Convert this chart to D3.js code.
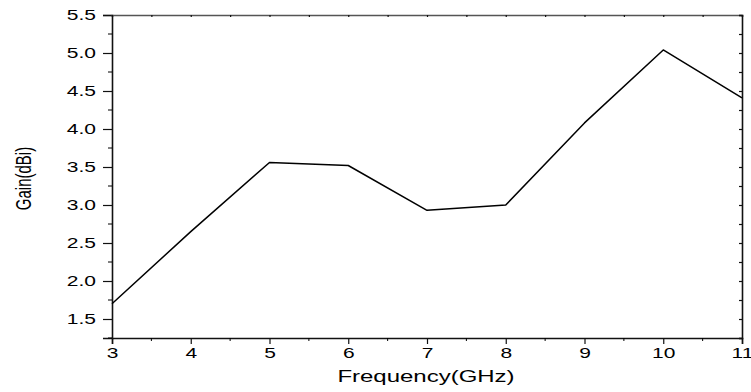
<!DOCTYPE html>
<html><head><meta charset="utf-8">
<script src="https://cdn.jsdelivr.net/npm/d3@7"></script>
<style>body{margin:0;background:#fff}svg{display:block}</style>
</head><body>
<svg id="c" width="751" height="392"></svg>
<script>
const freq = [3, 4, 5, 6, 7, 8, 9, 10, 11];
const gain = [1.70, 2.65, 3.56, 3.52, 2.93, 3.00, 4.08, 5.04, 4.41];
const xTicks = [3, 4, 5, 6, 7, 8, 9, 10, 11];
const yTicks = [1.5, 2.0, 2.5, 3.0, 3.5, 4.0, 4.5, 5.0, 5.5];

const svg = d3.select("#c");
const L = 112, R = 742, T = 15, B = 338;
const SX = 1.5;
const x = d3.scaleLinear().domain([3, 11]).range([L, R]);
const y = d3.scaleLinear().domain([1.25, 5.5]).range([B, T]);
const font = "Liberation Sans, Arial, sans-serif";

const xMinor = d3.range(3.5, 11, 1);
const yMinor = d3.range(1.25, 5.5, 0.5);

const gx = svg.append("g").attr("transform", `translate(0,${B})`)
  .call(d3.axisBottom(x).tickValues(xTicks).tickFormat(d3.format("d")).tickSizeOuter(0).tickSize(6).tickPadding(4));
gx.append("g").selectAll("line").data(xMinor).join("line")
  .attr("x1", d => x(d)).attr("x2", d => x(d)).attr("y1", 0).attr("y2", 3).attr("stroke", "#000");

const gy = svg.append("g").attr("transform", `translate(${L},0)`)
  .call(d3.axisLeft(y).tickValues(yTicks).tickFormat(d3.format(".1f")).tickSizeOuter(0).tickSize(9).tickPadding(7));
gy.append("g").selectAll("line").data(yMinor).join("line")
  .attr("y1", d => y(d)).attr("y2", d => y(d)).attr("x1", 0).attr("x2", -4).attr("stroke", "#000");

const gt = svg.append("g").attr("transform", `translate(0,${T})`)
  .call(d3.axisTop(x).tickValues(d3.range(3, 11.01, 0.5)).tickFormat("").tickSizeOuter(0).tickSize(-2));
const gr = svg.append("g").attr("transform", `translate(${R},0)`)
  .call(d3.axisRight(y).tickValues(d3.range(1.25, 5.51, 0.25)).tickFormat("").tickSizeOuter(0).tickSize(-3));

[gx, gy, gt, gr].forEach(g => {
  g.select(".domain").attr("stroke", "#111").attr("stroke-width", 1.6);
  g.selectAll(".tick line").attr("stroke", "#111").attr("stroke-width", 1.2);
  g.selectAll(".tick text").attr("font-family", font).attr("font-size", 14).attr("fill", "#000");
});
gt.select(".domain").attr("stroke", "#555");

gx.selectAll(".tick text").each(function () {
  const t = d3.select(this);
  t.attr("transform", `scale(${SX},1)`);
  const px = +(t.attr("x") || 0);
  t.attr("x", px / SX);
});
gy.selectAll(".tick text").attr("transform", function () {
  const t = d3.select(this);
  const px = +t.attr("x");
  return `translate(${px},0) scale(${SX},1) translate(${-px},0)`;
});

svg.append("path").datum(freq.map((f, i) => [f, gain[i]]))
  .attr("fill", "none").attr("stroke", "#000").attr("stroke-width", 1.5)
  .attr("stroke-linejoin", "round")
  .attr("d", d3.line().x(d => x(d[0])).y(d => y(d[1])));

svg.append("text").attr("transform", `translate(${(L + R) / 2 - 1},382) scale(${SX},1)`)
  .attr("text-anchor", "middle").attr("font-family", font).attr("font-size", 16).text("Frequency(GHz)");
svg.append("text").attr("transform", `translate(23,${(T + B) / 2 + 2}) scale(${SX},1) rotate(-90)`)
  .attr("text-anchor", "middle").attr("dy", "0.35em").attr("font-family", font).attr("font-size", 15).text("Gain(dBi)");
</script>
</body></html>
